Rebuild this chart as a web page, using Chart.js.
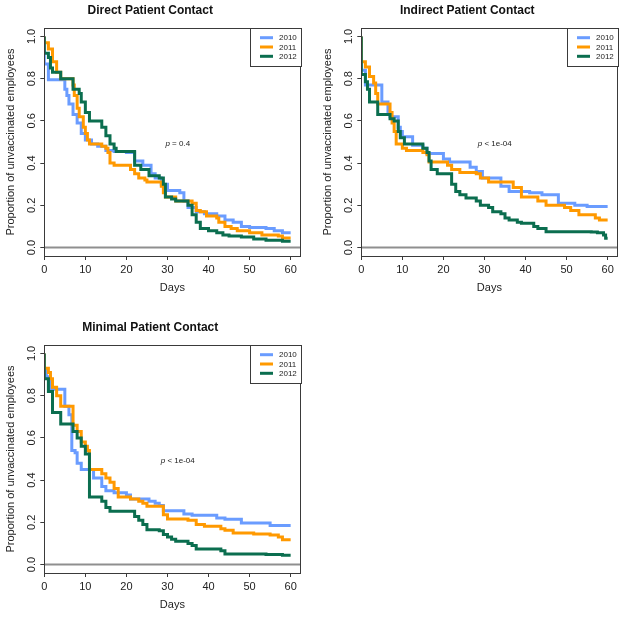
<!DOCTYPE html>
<html><head><meta charset="utf-8">
<script src="https://cdn.jsdelivr.net/npm/chart.js@4/dist/chart.umd.min.js"></script>
<style>
html,body{margin:0;padding:0;background:#fff;overflow:hidden;width:624px;height:619px}
.p{position:absolute}
canvas{display:block}
</style>
</head><body>
<div class="p" style="left:0;top:0"><canvas id="c1"></canvas></div>
<div class="p" style="left:317px;top:0"><canvas id="c2"></canvas></div>
<div class="p" style="left:0;top:317px"><canvas id="c3"></canvas></div>
<script>
// ---- data ----
const years = ['2010', '2011', '2012'];
const xTicks = [0, 10, 20, 30, 40, 50, 60];
const yTicks = [0, 0.2, 0.4, 0.6, 0.8, 1.0];

// Direct Patient Contact
const directDays2010 = [0, 0, 1, 5, 5.5, 6, 7, 8, 9, 10, 11.5, 13, 15, 17, 20, 22, 24, 26, 27, 28.5, 30, 33, 34, 35, 37, 39, 42, 44, 46, 48, 50, 54, 56, 58, 60];
const directSurv2010 = [1, 0.87, 0.795, 0.75, 0.72, 0.68, 0.63, 0.59, 0.54, 0.51, 0.49, 0.48, 0.46, 0.455, 0.45, 0.41, 0.39, 0.35, 0.33, 0.30, 0.27, 0.26, 0.22, 0.19, 0.17, 0.16, 0.15, 0.13, 0.12, 0.10, 0.095, 0.09, 0.08, 0.07, 0.07];
const directDays2011 = [0, 0, 1, 2, 3, 4, 7, 7.3, 8, 8.5, 9.5, 10, 10.5, 11, 14, 15, 15.5, 16, 17, 21, 22, 23, 24.5, 25, 28.5, 29, 29.5, 32, 36, 37, 38, 39.5, 42, 42.5, 44, 45.5, 47, 50, 53, 57, 58, 60];
const directSurv2011 = [1, 0.97, 0.94, 0.88, 0.83, 0.80, 0.77, 0.72, 0.66, 0.62, 0.57, 0.54, 0.51, 0.49, 0.48, 0.47, 0.45, 0.40, 0.39, 0.37, 0.35, 0.33, 0.32, 0.31, 0.29, 0.26, 0.24, 0.22, 0.21, 0.175, 0.17, 0.15, 0.14, 0.12, 0.10, 0.09, 0.08, 0.07, 0.06, 0.055, 0.045, 0.045];
const directDays2012 = [0, 0, 1, 1.5, 2, 4, 7, 8.5, 9, 10, 11, 14, 15, 16, 17, 17.5, 22, 23.5, 25.5, 28, 29, 29.5, 31, 32, 35, 36, 37, 38, 40, 42, 43.5, 45, 48, 51, 54, 58, 60];
const directSurv2012 = [1, 0.92, 0.90, 0.85, 0.83, 0.80, 0.75, 0.73, 0.69, 0.64, 0.60, 0.57, 0.53, 0.49, 0.47, 0.455, 0.39, 0.37, 0.34, 0.33, 0.30, 0.24, 0.23, 0.22, 0.20, 0.155, 0.12, 0.09, 0.08, 0.07, 0.06, 0.055, 0.05, 0.04, 0.035, 0.03, 0.03];

// Indirect Patient Contact
const indirectDays2010 = [0, 0, 1, 5, 6.5, 7, 9, 9.5, 10, 12.5, 15, 16, 20, 21.5, 26.5, 28, 29.5, 34, 36, 41, 44, 48, 52, 55, 60];
const indirectSurv2010 = [1, 0.84, 0.77, 0.69, 0.64, 0.62, 0.57, 0.55, 0.525, 0.485, 0.47, 0.445, 0.42, 0.405, 0.38, 0.36, 0.33, 0.29, 0.265, 0.26, 0.25, 0.21, 0.20, 0.195, 0.195];
const indirectDays2011 = [0, 0, 1, 2, 3, 3.5, 4, 7, 7.5, 8, 8.5, 10, 11, 15, 16, 16.5, 21, 22, 24, 28, 29, 31, 37, 39, 43, 45, 49.5, 51, 53, 57, 58, 60];
const indirectSurv2011 = [1, 0.88, 0.855, 0.81, 0.78, 0.73, 0.68, 0.64, 0.59, 0.55, 0.49, 0.47, 0.46, 0.45, 0.44, 0.405, 0.39, 0.37, 0.355, 0.35, 0.33, 0.31, 0.285, 0.24, 0.22, 0.20, 0.19, 0.175, 0.155, 0.14, 0.13, 0.13];
const indirectDays2012 = [0, 0, 1, 1.5, 2, 4, 7, 8, 9, 9.5, 10.5, 15, 16, 16.5, 17, 18.5, 22, 23, 24, 25.5, 28, 29, 31, 32, 34, 35, 36, 38, 39, 42, 43, 45, 56, 57.5, 59, 59.5, 60];
const indirectSurv2012 = [1, 0.82, 0.785, 0.75, 0.69, 0.63, 0.61, 0.60, 0.55, 0.52, 0.49, 0.47, 0.45, 0.41, 0.37, 0.35, 0.30, 0.265, 0.25, 0.235, 0.22, 0.20, 0.19, 0.17, 0.16, 0.14, 0.13, 0.12, 0.115, 0.10, 0.09, 0.075, 0.074, 0.07, 0.06, 0.044, 0.044];

// Minimal Patient Contact
const minimalDays2010 = [0, 0, 0.5, 1.5, 5, 6, 6.7, 7.5, 8, 9, 12, 14, 15, 17, 20, 21, 25.5, 27, 28, 29, 34, 36, 42, 44, 48, 55, 60];
const minimalSurv2010 = [1, 0.92, 0.89, 0.83, 0.75, 0.71, 0.54, 0.53, 0.48, 0.45, 0.41, 0.37, 0.35, 0.34, 0.33, 0.31, 0.30, 0.29, 0.28, 0.255, 0.24, 0.233, 0.22, 0.215, 0.197, 0.185, 0.185];
const minimalDays2011 = [0, 0, 1, 1.5, 2, 3, 4, 7, 8, 9, 10, 10.5, 11, 14, 15, 16, 17, 18, 21, 23, 24, 25, 29, 30, 35, 37, 39, 43, 44, 46, 51, 55, 57, 58, 60];
const minimalSurv2011 = [1, 0.93, 0.91, 0.88, 0.84, 0.80, 0.75, 0.66, 0.63, 0.58, 0.56, 0.54, 0.45, 0.43, 0.41, 0.39, 0.36, 0.32, 0.31, 0.30, 0.29, 0.276, 0.236, 0.216, 0.21, 0.19, 0.181, 0.17, 0.162, 0.15, 0.145, 0.14, 0.13, 0.118, 0.118];
const minimalDays2012 = [0, 0, 1, 2, 4, 7, 8, 9, 10, 11, 14, 15, 16, 22, 23, 24, 25, 28, 29, 30, 31, 32, 35, 36, 37, 43, 44, 54, 58, 60];
const minimalSurv2012 = [1, 0.88, 0.82, 0.72, 0.666, 0.63, 0.60, 0.56, 0.524, 0.32, 0.30, 0.27, 0.252, 0.228, 0.21, 0.19, 0.165, 0.16, 0.142, 0.13, 0.12, 0.11, 0.10, 0.09, 0.074, 0.065, 0.05, 0.048, 0.044, 0.044];

// ---- styling ----
const FONT = "'Liberation Sans', Arial, Helvetica, sans-serif";
const colors = ['#6A9CFF', '#FF9900', '#0B6E4F'];
const boxColor = '#3a3a3a';
const textColor = '#222';
Chart.defaults.font.family = FONT;

const rskPlugin = {
  id: 'rsk',
  beforeDatasetsDraw(chart) {
    const {ctx, chartArea: a, scales: {y}} = chart;
    const y0 = y.getPixelForValue(0);
    ctx.save();
    ctx.strokeStyle = '#8f8f8f';
    ctx.lineWidth = 2;
    ctx.beginPath();
    ctx.moveTo(a.left, y0);
    ctx.lineTo(a.right, y0);
    ctx.stroke();
    ctx.restore();
  },
  afterDatasetsDraw(chart, args, opts) {
    const {ctx, chartArea: a, scales: {x, y}} = chart;
    ctx.save();
    // plot box
    ctx.strokeStyle = boxColor;
    ctx.lineWidth = 1;
    ctx.strokeRect(Math.round(a.left) + 0.5, Math.round(a.top) + 0.5, Math.round(a.right - a.left), Math.round(a.bottom - a.top));
    // p-value annotation
    const cx = x.getPixelForValue(opts.pX), cy = y.getPixelForValue(opts.pY);
    ctx.fillStyle = textColor;
    ctx.textBaseline = 'middle';
    ctx.textAlign = 'left';
    ctx.font = 'italic 8px ' + FONT;
    const pw = ctx.measureText('p').width;
    ctx.font = '8px ' + FONT;
    const rest = ' ' + opts.pText;
    const rw = ctx.measureText(rest).width;
    const sx = cx - (pw + rw) / 2;
    ctx.font = 'italic 8px ' + FONT;
    ctx.fillText('p', sx, cy);
    ctx.font = '8px ' + FONT;
    ctx.fillText(rest, sx + pw, cy);
    // legend
    const r = Math.round(a.right), t = Math.round(a.top);
    const lw = 51, lh = 38;
    ctx.fillStyle = '#fff';
    ctx.fillRect(r - lw, t, lw, lh);
    ctx.strokeStyle = boxColor;
    ctx.lineWidth = 1;
    ctx.strokeRect(r - lw + 0.5, t + 0.5, lw, lh);
    chart.data.datasets.forEach((ds, i) => {
      const yy = t + 9.7 + i * 9.3;
      ctx.strokeStyle = ds.borderColor;
      ctx.lineWidth = 3;
      ctx.beginPath();
      ctx.moveTo(r - 41, yy);
      ctx.lineTo(r - 28, yy);
      ctx.stroke();
      ctx.fillStyle = textColor;
      ctx.font = '8px ' + FONT;
      ctx.textAlign = 'left';
      ctx.textBaseline = 'middle';
      ctx.fillText(ds.label, r - 22, yy + 0.5);
    });
    ctx.restore();
  }
};

function makeChart(id, title, days, surv, pText, w) {
  const canvas = document.getElementById(id);
  canvas.width = w; canvas.height = 300;
  canvas.style.width = w + 'px'; canvas.style.height = '300px';
  const datasets = years.map((yr, i) => ({
    label: yr,
    data: days[i].map((d, j) => ({x: d, y: surv[i][j]})),
    borderColor: colors[i],
    backgroundColor: colors[i],
    borderWidth: 3,
    stepped: true,
    pointRadius: 0,
    pointHoverRadius: 0,
    fill: false,
    order: 3 - i
  }));
  const gridOpts = {drawOnChartArea: false, drawTicks: true, tickLength: 4, color: boxColor, lineWidth: 1};
  return new Chart(canvas, {
    type: 'line',
    data: {datasets},
    options: {
      responsive: false,
      animation: false,
      devicePixelRatio: 1,
      events: [],
      layout: {padding: {left: 0, top: 0, right: w - 300.5, bottom: 0}},
      plugins: {
        legend: {display: false},
        tooltip: {enabled: false},
        title: {display: true, text: title, color: '#111',
          font: {family: FONT, size: 12, weight: 'bold'}, padding: {top: 3, bottom: 10.6}},
        rsk: {pText: pText, pX: 32.5, pY: 0.493}
      },
      scales: {
        x: {
          type: 'linear', min: 0, max: 62.4,
          afterBuildTicks: s => { s.ticks = xTicks.map(v => ({value: v})); },
          afterFit: s => { s.height = 44; },
          grid: gridOpts,
          border: {display: false},
          ticks: {font: {size: 11}, color: textColor, padding: 3, maxRotation: 0, autoSkip: false},
          title: {display: true, text: 'Days', color: textColor, font: {size: 11}, padding: {top: 0, bottom: 5.4}}
        },
        y: {
          type: 'linear', min: -0.04, max: 1.04,
          afterBuildTicks: s => { s.ticks = yTicks.map(v => ({value: v})); },
          afterFit: s => { s.width = 44.3; },
          grid: gridOpts,
          border: {display: false},
          ticks: {font: {size: 11}, color: textColor, padding: 0.7, minRotation: 90, maxRotation: 90,
            crossAlign: 'center', autoSkip: false, callback: v => Number(v).toFixed(1)},
          title: {display: true, text: 'Proportion of unvaccinated employees', color: textColor,
            font: {size: 11}, padding: {top: 4.4, bottom: 0}}
        }
      }
    },
    plugins: [rskPlugin]
  });
}

makeChart('c1', 'Direct Patient Contact',
  [directDays2010, directDays2011, directDays2012],
  [directSurv2010, directSurv2011, directSurv2012], '= 0.4', 312);
makeChart('c2', 'Indirect Patient Contact',
  [indirectDays2010, indirectDays2011, indirectDays2012],
  [indirectSurv2010, indirectSurv2011, indirectSurv2012], '< 1e-04', 307);
makeChart('c3', 'Minimal Patient Contact',
  [minimalDays2010, minimalDays2011, minimalDays2012],
  [minimalSurv2010, minimalSurv2011, minimalSurv2012], '< 1e-04', 312);
</script>
</body></html>
